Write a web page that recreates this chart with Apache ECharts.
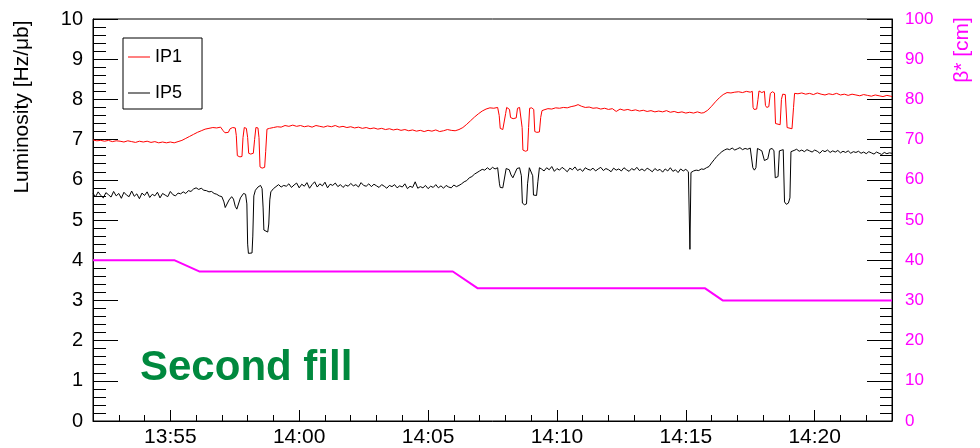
<!DOCTYPE html>
<html>
<head>
<meta charset="utf-8">
<script src="https://cdn.jsdelivr.net/npm/echarts@6/dist/echarts.min.js"></script>
<style>
html,body{margin:0;padding:0;background:#fff;}
#c{width:980px;height:448px;}
</style>
</head>
<body>
<div id="c"></div>
<script>
// x values are minutes after 13:00
const xTickValues = [55, 60, 65, 70, 75, 80];
const xTickLabels = ['13:55', '14:00', '14:05', '14:10', '14:15', '14:20'];
const seriesNames = ['IP1', 'IP5'];

// IP1 luminosity [Hz/μb]
const ip1 = [
[52.0,6.99],[52.15,6.97],[52.3,6.98],[52.45,6.96],[52.6,6.98],[52.75,6.95],[52.9,6.97],[53.05,6.96],[53.2,6.94],[53.35,6.97],[53.5,6.95],[53.65,6.93],[53.8,6.96],[53.95,6.94],[54.1,6.96],[54.25,6.93],[54.4,6.95],[54.55,6.92],[54.7,6.94],[54.85,6.92],[55.0,6.94],[55.15,6.92],[55.3,6.95],
[55.45,6.98],[55.6,7.03],[55.75,7.08],[55.9,7.13],[56.05,7.18],[56.2,7.22],[56.35,7.26],[56.5,7.28],[56.65,7.30],[56.8,7.29],[56.95,7.31],[57.0,7.28],
[57.05,7.22],[57.12,7.17],[57.25,7.18],[57.32,7.27],[57.42,7.30],[57.52,7.29],
[57.56,7.10],[57.60,6.60],[57.70,6.57],[57.78,6.58],[57.82,7.05],[57.87,7.30],[57.95,7.28],[58.00,7.05],[58.04,6.66],[58.12,6.64],[58.22,6.66],[58.27,7.00],[58.32,7.30],[58.40,7.29],[58.44,7.05],[58.48,6.32],[58.56,6.29],[58.66,6.31],[58.70,6.70],[58.75,7.26],[58.85,7.28],
[59.0,7.30],[59.15,7.32],[59.3,7.31],[59.45,7.35],[59.6,7.33],[59.75,7.36],[59.9,7.33],[60.05,7.35],[60.2,7.32],[60.35,7.34],[60.5,7.31],[60.65,7.35],[60.8,7.33],[60.95,7.31],[61.1,7.34],[61.25,7.32],[61.4,7.35],[61.55,7.31],[61.7,7.33],[61.85,7.30],[62.0,7.32],[62.15,7.29],[62.3,7.31],[62.45,7.28],[62.6,7.30],[62.75,7.27],[62.9,7.29],[63.05,7.26],[63.2,7.28],[63.35,7.25],[63.5,7.27],[63.65,7.24],[63.8,7.26],[63.95,7.23],[64.1,7.25],[64.25,7.22],[64.4,7.24],[64.55,7.21],[64.7,7.23],[64.85,7.20],[65.0,7.23],[65.15,7.21],[65.3,7.24],[65.45,7.20],[65.6,7.22],[65.75,7.25],[65.9,7.23],[66.05,7.22],[66.2,7.25],
[66.35,7.30],[66.5,7.38],[66.65,7.47],[66.8,7.56],[66.95,7.64],[67.1,7.71],[67.25,7.76],[67.4,7.79],[67.55,7.78],[67.7,7.80],
[67.76,7.60],[67.80,7.28],[67.90,7.25],[67.97,7.28],[68.01,7.65],[68.05,7.80],[68.12,7.79],[68.16,7.75],[68.20,7.55],[68.30,7.52],[68.42,7.54],[68.47,7.78],[68.55,7.80],[68.62,7.78],[68.65,7.30],[68.68,6.74],[68.78,6.71],[68.86,6.73],[68.90,7.30],[68.94,7.78],[69.02,7.79],[69.10,7.75],[69.14,7.20],[69.22,7.18],[69.32,7.19],[69.37,7.55],[69.42,7.72],
[69.5,7.74],[69.65,7.77],[69.8,7.76],[69.95,7.79],[70.1,7.78],[70.25,7.80],[70.4,7.79],[70.55,7.82],[70.7,7.84],[70.82,7.87],[70.95,7.83],[71.1,7.80],[71.25,7.81],[71.4,7.78],[71.55,7.79],[71.7,7.76],[71.85,7.78],[72.0,7.75],[72.15,7.77],[72.3,7.70],[72.45,7.76],[72.6,7.73],[72.75,7.75],[72.9,7.72],[73.05,7.74],[73.2,7.71],[73.35,7.73],[73.5,7.70],[73.65,7.72],[73.8,7.69],[73.95,7.71],[74.1,7.69],[74.25,7.72],[74.4,7.68],[74.55,7.70],[74.7,7.67],[74.85,7.69],[75.0,7.66],[75.15,7.68],[75.3,7.66],[75.45,7.69],[75.6,7.66],[75.7,7.67],
[75.85,7.73],[76.0,7.83],[76.15,7.94],[76.3,8.04],[76.45,8.12],[76.6,8.17],[76.75,8.16],[76.9,8.18],[77.05,8.19],[77.2,8.17],[77.35,8.20],[77.5,8.18],[77.58,8.20],
[77.61,7.80],[77.65,7.75],[77.75,7.76],[77.80,8.00],[77.84,8.21],[77.95,8.17],[78.05,8.20],[78.09,7.85],[78.14,7.80],[78.22,7.82],[78.28,8.15],[78.36,8.19],[78.44,8.16],[78.48,7.40],[78.55,7.36],[78.66,7.37],[78.71,8.00],[78.76,8.13],[78.86,8.12],[78.93,7.30],[79.00,7.26],[79.12,7.27],[79.18,7.80],[79.22,8.15],
[79.35,8.14],[79.5,8.16],[79.65,8.13],[79.8,8.15],[79.95,8.12],[80.1,8.16],[80.25,8.13],[80.4,8.11],[80.55,8.14],[80.7,8.12],[80.85,8.15],[81.0,8.11],[81.15,8.13],[81.3,8.10],[81.45,8.13],[81.6,8.11],[81.75,8.09],[81.9,8.12],[82.05,8.10],[82.2,8.08],[82.35,8.11],[82.5,8.09],[82.65,8.07],[82.8,8.10],[82.95,8.08],[83.0,8.07]
];

// IP5 luminosity [Hz/μb]
const ip5 = [
[52.0,5.66],[52.1,5.58],[52.2,5.70],[52.3,5.61],[52.4,5.55],[52.5,5.68],[52.6,5.63],[52.7,5.57],[52.8,5.71],[52.9,5.60],[53.0,5.66],[53.1,5.54],[53.2,5.69],[53.3,5.62],[53.4,5.58],[53.5,5.72],[53.6,5.59],[53.7,5.65],[53.8,5.53],[53.9,5.67],[54.0,5.61],[54.1,5.70],[54.2,5.56],[54.3,5.64],[54.4,5.60],[54.5,5.69],[54.6,5.55],[54.7,5.66],[54.8,5.62],[54.9,5.58],[55.0,5.71],[55.1,5.63],[55.2,5.60],[55.3,5.67],
[55.4,5.65],[55.5,5.70],[55.6,5.66],[55.7,5.73],[55.8,5.71],[55.9,5.77],[56.0,5.80],[56.1,5.76],[56.2,5.79],[56.3,5.74],[56.4,5.73],[56.5,5.70],[56.6,5.71],[56.7,5.66],[56.8,5.64],[56.9,5.60],[57.0,5.58],
[57.08,5.45],[57.13,5.31],[57.20,5.34],[57.28,5.50],[57.38,5.58],[57.45,5.52],[57.52,5.34],[57.58,5.27],[57.64,5.30],[57.72,5.55],[57.84,5.66],[57.92,5.64],[57.97,5.40],[58.00,4.40],[58.03,4.17],[58.10,4.15],[58.17,4.18],[58.20,4.60],[58.24,5.60],[58.30,5.74],[58.40,5.82],[58.50,5.86],[58.56,5.78],[58.60,5.30],[58.63,4.75],[58.70,4.72],[58.78,4.70],[58.82,4.90],[58.86,5.50],[58.90,5.70],[59.0,5.78],
[59.1,5.83],[59.2,5.88],[59.3,5.82],[59.4,5.86],[59.5,5.84],[59.6,5.90],[59.7,5.81],[59.8,5.87],[59.9,5.92],[60.0,5.80],[60.1,5.89],[60.2,5.84],[60.3,5.93],[60.4,5.79],[60.5,5.88],[60.6,5.95],[60.7,5.82],[60.8,5.90],[60.9,5.85],[61.0,5.94],[61.1,5.80],[61.2,5.89],[61.3,5.86],[61.4,5.92],[61.5,5.83],[61.6,5.88],[61.7,5.81],[61.8,5.87],[61.9,5.84],[62.0,5.91],[62.1,5.85],[62.2,5.88],[62.3,5.82],[62.4,5.93],[62.5,5.86],[62.6,5.84],[62.7,5.90],[62.8,5.83],[62.9,5.89],[63.0,5.85],[63.1,5.81],[63.2,5.88],[63.3,5.84],[63.4,5.79],[63.5,5.86],[63.6,5.83],[63.7,5.88],[63.8,5.80],[63.9,5.85],[64.0,5.82],[64.1,5.90],[64.2,5.78],[64.3,5.84],[64.4,5.81],[64.5,5.95],[64.6,5.79],[64.7,5.83],[64.8,5.80],[64.9,5.86],[65.0,5.78],[65.1,5.84],[65.2,5.81],[65.3,5.88],[65.4,5.80],[65.5,5.85],[65.6,5.79],[65.7,5.86],[65.8,5.82],[65.9,5.80],[66.0,5.87],[66.1,5.83],[66.2,5.86],
[66.3,5.90],[66.4,5.95],[66.5,5.98],[66.6,6.05],[66.7,6.08],[66.8,6.14],[66.9,6.18],[67.0,6.22],[67.1,6.26],[67.2,6.24],[67.3,6.30],[67.4,6.25],[67.5,6.31],[67.6,6.27],[67.7,6.30],
[67.77,5.90],[67.80,5.81],[67.90,5.80],[67.97,5.84],[68.03,6.28],[68.10,6.30],[68.15,6.25],[68.22,6.12],[68.29,6.05],[68.36,6.15],[68.45,6.28],[68.55,6.30],[68.62,6.10],[68.66,5.42],[68.74,5.38],[68.82,5.40],[68.86,5.90],[68.93,6.30],[69.00,6.27],[69.06,6.10],[69.09,5.62],[69.15,5.60],[69.21,5.61],[69.26,5.95],[69.32,6.30],
[69.4,6.27],[69.5,6.22],[69.6,6.30],[69.7,6.25],[69.8,6.33],[69.9,6.21],[70.0,6.28],[70.1,6.24],[70.2,6.31],[70.3,6.26],[70.4,6.20],[70.5,6.29],[70.6,6.25],[70.7,6.32],[70.8,6.23],[70.9,6.27],[71.0,6.21],[71.1,6.30],[71.2,6.26],[71.3,6.24],[71.4,6.29],[71.5,6.22],[71.6,6.27],[71.7,6.31],[71.8,6.23],[71.9,6.28],[72.0,6.25],[72.1,6.20],[72.2,6.29],[72.3,6.24],[72.4,6.27],[72.5,6.22],[72.6,6.30],[72.7,6.25],[72.8,6.21],[72.9,6.28],[73.0,6.24],[73.1,6.31],[73.2,6.23],[73.3,6.27],[73.4,6.22],[73.5,6.29],[73.6,6.25],[73.7,6.20],[73.8,6.28],[73.9,6.23],[74.0,6.26],[74.1,6.19],[74.2,6.27],[74.3,6.22],[74.4,6.30],[74.5,6.21],[74.6,6.25],[74.7,6.18],[74.8,6.27],[74.9,6.22],[75.0,6.26],[75.1,6.20],
[75.14,6.24],[75.16,4.27],[75.20,6.18],
[75.3,6.22],[75.4,6.24],[75.5,6.23],[75.6,6.27],[75.7,6.26],[75.8,6.30],[75.9,6.33],[76.0,6.42],[76.1,6.50],[76.2,6.58],[76.3,6.64],[76.4,6.70],[76.5,6.74],[76.6,6.77],[76.7,6.75],[76.8,6.79],[76.9,6.74],[77.0,6.77],[77.1,6.80],[77.2,6.75],[77.3,6.78],[77.4,6.76],[77.5,6.79],
[77.55,6.76],[77.60,6.30],[77.66,6.24],[77.72,6.30],[77.78,6.78],[77.85,6.80],[77.95,6.72],[78.05,6.48],[78.12,6.44],[78.18,6.52],[78.26,6.76],[78.35,6.78],[78.42,6.72],[78.47,6.05],[78.58,6.08],[78.63,6.72],[78.70,6.74],[78.78,6.75],[78.83,5.45],[78.90,5.39],[78.98,5.42],[79.04,5.55],[79.08,6.70],[79.15,6.74],
[79.2,6.73],[79.3,6.76],[79.4,6.71],[79.5,6.74],[79.6,6.70],[79.7,6.75],[79.8,6.72],[79.9,6.69],[80.0,6.74],[80.1,6.71],[80.2,6.66],[80.3,6.73],[80.4,6.70],[80.5,6.74],[80.6,6.68],[80.7,6.72],[80.8,6.69],[80.9,6.73],[81.0,6.67],[81.1,6.71],[81.2,6.68],[81.3,6.72],[81.4,6.66],[81.5,6.70],[81.6,6.68],[81.7,6.71],[81.8,6.66],[81.9,6.69],[82.0,6.65],[82.1,6.70],[82.2,6.67],[82.3,6.64],[82.4,6.69],[82.5,6.66],[82.6,6.63],[82.7,6.68],[82.8,6.65],[82.9,6.67],[83.0,6.66]
];

// beta* [cm]
const betaStar = [[52.0,40.0],[55.15,40.0],[56.12,37.2],[65.96,37.2],[66.93,33.0],[75.75,33.0],[76.43,30.0],[83.0,30.0]];

const FONT = '"Liberation Sans", Arial, Helvetica, sans-serif';
const chart = echarts.init(document.getElementById('c'), null, {renderer: 'canvas'});

const option = {
  animation: false,
  backgroundColor: '#ffffff',
  grid: {left: 93, right: 88, top: 19, bottom: 26, show: true, borderColor: '#000', borderWidth: 1, backgroundColor: 'transparent'},
  legend: {
    data: seriesNames.map(n => ({name: n, icon: 'rect'})),
    orient: 'vertical', left: 123, top: 38,
    itemWidth: 22, itemHeight: 1, itemGap: 16,
    padding: [9, 20, 6, 5],
    borderColor: '#000', borderWidth: 1, backgroundColor: '#fff',
    textStyle: {fontFamily: FONT, fontSize: 18, color: '#000', lineHeight: 20}
  },
  xAxis: [
    {
      type: 'value', min: 52, max: 83,
      axisLine: {show: true, lineStyle: {color: '#000', width: 1}},
      axisTick: {show: true, inside: true, length: 11, lineStyle: {color: '#000'}, customValues: xTickValues},
      axisLabel: {
        customValues: xTickValues, margin: 6,
        fontFamily: FONT, fontSize: 21, color: '#000',
        formatter: v => xTickLabels[xTickValues.indexOf(Math.round(v))] || ''
      },
      splitLine: {show: false}
    },
    {
      type: 'value', min: 52, max: 83, interval: 1, position: 'bottom',
      axisLine: {show: false},
      axisTick: {show: true, inside: true, length: 6, lineStyle: {color: '#000'}},
      axisLabel: {show: false},
      splitLine: {show: false}
    }
  ],
  yAxis: [
    {
      type: 'value', min: 0, max: 10, interval: 1, position: 'left',
      axisLine: {show: true, lineStyle: {color: '#000', width: 1}},
      axisTick: {show: true, inside: true, length: 25, lineStyle: {color: '#000'}},
      minorTick: {show: true, splitNumber: 5, length: 13, lineStyle: {color: '#000'}},
      axisLabel: {margin: 10, fontFamily: FONT, fontSize: 20, color: '#000'},
      splitLine: {show: false}, minorSplitLine: {show: false}
    },
    {
      type: 'value', min: 0, max: 100, interval: 10, position: 'right',
      axisLine: {show: true, lineStyle: {color: '#000', width: 1}},
      axisTick: {show: true, inside: true, length: 25, lineStyle: {color: '#000'}},
      minorTick: {show: true, splitNumber: 5, length: 12, lineStyle: {color: '#000'}},
      axisLabel: {margin: 13, fontFamily: FONT, fontSize: 17, color: '#ff00ff'},
      splitLine: {show: false}, minorSplitLine: {show: false}
    }
  ],
  series: [
    {name: 'β*', type: 'line', xAxisIndex: 0, yAxisIndex: 1, data: betaStar, showSymbol: false,
     lineStyle: {color: '#ff00ff', width: 2}, itemStyle: {color: '#ff00ff'}, z: 2},
    {name: seriesNames[0], type: 'line', xAxisIndex: 0, yAxisIndex: 0, data: ip1, showSymbol: false,
     lineStyle: {color: '#ff0000', width: 1}, itemStyle: {color: '#ff0000'}, z: 3},
    {name: seriesNames[1], type: 'line', xAxisIndex: 0, yAxisIndex: 0, data: ip5, showSymbol: false,
     lineStyle: {color: '#000000', width: 1}, itemStyle: {color: '#000000'}, z: 3}
  ],
  graphic: [
    {type: 'text', x: 22, y: 107, rotation: Math.PI / 2,
     style: {text: 'Luminosity [Hz/μb]', font: '21px ' + FONT, fill: '#000', align: 'center', verticalAlign: 'middle'}},
    {type: 'text', x: 962, y: 50, rotation: Math.PI / 2,
     style: {text: 'β* [cm]', font: '21px ' + FONT, fill: '#ff00ff', align: 'center', verticalAlign: 'middle'}},
    {type: 'text', x: 140, y: 368,
     style: {text: 'Second fill', font: 'bold 42px ' + FONT, fill: '#00893e', align: 'left', verticalAlign: 'middle'}}
  ]
};
chart.setOption(option);
</script>
</body>
</html>
